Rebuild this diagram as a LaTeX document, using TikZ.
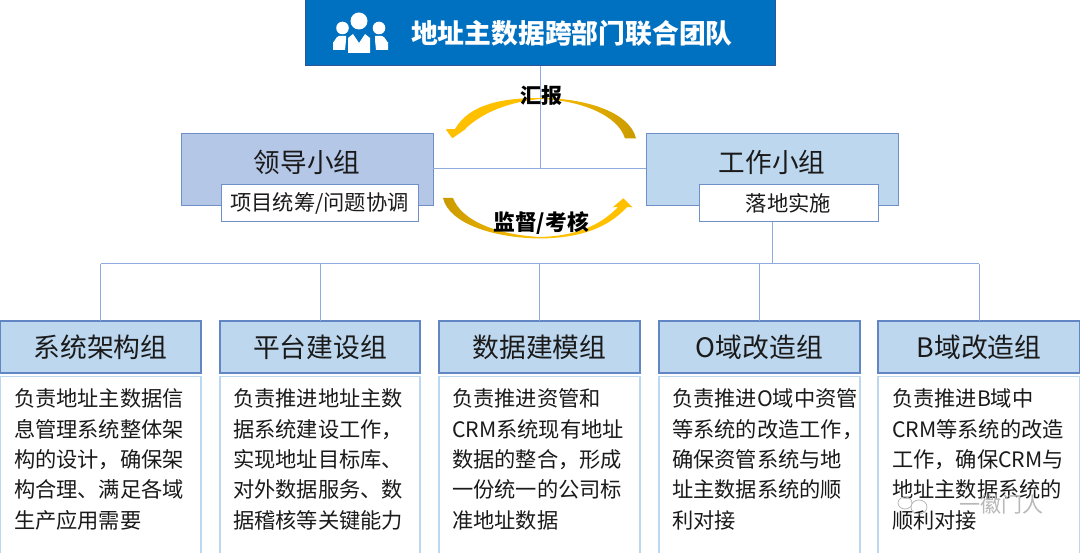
\documentclass[tikz,border=0pt]{standalone}
\usepackage{fontspec}
\setmainfont{Noto Sans CJK SC}
\definecolor{topfill}{HTML}{0070C0}
\definecolor{topline}{HTML}{2F5597}
\definecolor{lead}{HTML}{B4C7E7}
\definecolor{work}{HTML}{BDD7EE}
\definecolor{edge}{HTML}{6F8FC9}
\definecolor{gedge}{HTML}{6285C3}
\definecolor{conn}{HTML}{8FAADC}
\definecolor{bodyline}{HTML}{BDD7EE}
\definecolor{txt}{HTML}{1A1A1A}
\definecolor{goldA}{HTML}{FFC000}
\definecolor{goldB}{HTML}{C99A00}
\definecolor{wm}{HTML}{B8B8B8}
\tikzset{
  x=1pt,y=-1pt,
  every node/.style={outer sep=0pt},
  subbox/.style={draw=edge,fill=white,line width=1pt,inner sep=0pt,anchor=north west,minimum height=37pt,text=txt,font=\fontsize{21.3}{21.3}\selectfont},
  groupbox/.style={draw=gedge,line width=1.2pt,fill=work,inner sep=0pt,anchor=north west,minimum height=52pt,text=txt,font=\fontsize{26.8}{26.8}\selectfont},
  bodybox/.style={draw=bodyline,line width=1.2pt,fill=white,anchor=north west,inner sep=0pt,minimum height=177pt,text=txt},
  bodytxt/.style={anchor=north west,inner sep=0pt,text=txt,align=left,font=\fontsize{21.25}{30.3}\selectfont,text width=#1},
  wire/.style={draw=conn,line width=1pt},
  lab/.style={font=\bfseries\fontsize{21}{21}\selectfont,text=black,inner sep=0pt}
}
\begin{document}
\begin{tikzpicture}
\useasboundingbox (0,0) rectangle (1080,553);
\fill[white] (0,0) rectangle (1080,553);
% boxes
\node[draw=topline,line width=1pt,fill=topfill,anchor=north west,minimum width=470pt,minimum height=66pt,inner sep=0pt] (top) at (305,0) {};
\node[anchor=west,inner sep=0pt,text=white,font=\bfseries\fontsize{26.8}{26.8}\selectfont] (toptxt) at (411,33) {地址主数据跨部门联合团队};
% icon
\fill[white] (359,21) circle (8.5);
\fill[white] (342.5,28) circle (6.3);
\fill[white] (379,28) circle (6.3);
\fill[white] (333,50) -- (333,42) to[out=-90,in=180] (339,36) -- (346,36) -- (346,40) -- (345,50) -- cycle;
\fill[white] (388,50) -- (388,42) to[out=-90,in=0] (382,36) -- (375,36) -- (375,40) -- (376,50) -- cycle;
\fill[white] (348,53) -- (348,38) -- (353,34) -- (359,43) -- (365,34) -- (370,38) -- (370,53) -- cycle;
\fill[topfill] (354,34.5) -- (364,34.5) -- (359,41) -- cycle;

\node[draw=edge,line width=1pt,fill=lead,anchor=north west,minimum width=252pt,minimum height=72pt,inner sep=0pt] (lead) at (181,134) {};
\node[draw=edge,line width=1pt,fill=work,anchor=north west,minimum width=252pt,minimum height=72pt,inner sep=0pt] (work) at (646,134) {};
\node[inner sep=0pt,text=txt,font=\fontsize{26.6}{26.6}\selectfont] (leadt) at (307,162) {领导小组};
\node[inner sep=0pt,text=txt,font=\fontsize{26.6}{26.6}\selectfont] (workt) at (772,162) {工作小组};
\node[subbox,minimum width=197pt] (leadsub) at (221,185) {项目统筹/问题协调};
\node[subbox,minimum width=179pt] (worksub) at (699,185) {落地实施};

% groups
\node[groupbox,minimum width=201pt] (g1) at (0,321) {系统架构组};
\node[groupbox,minimum width=200pt] (g2) at (220,321) {平台建设组};
\node[groupbox,minimum width=201pt] (g3) at (439,321) {数据建模组};
\node[groupbox,minimum width=201pt] (g4) at (659,321) {O域改造组};
\node[groupbox,minimum width=202pt] (g5) at (878,321) {B域改造组};
\node[bodybox,minimum width=201pt] (b1) at (0,376.5) {};
\node[bodybox,minimum width=200pt] (b2) at (220,376.5) {};
\node[bodybox,minimum width=201pt] (b3) at (439,376.5) {};
\node[bodybox,minimum width=201pt] (b4) at (659,376.5) {};
\node[bodybox,minimum width=202pt] (b5) at (878,376.5) {};
\node[bodytxt=186pt] (t1) at (14,389) {负责地址主数据信\\息管理系统整体架\\构的设计，确保架\\构合理、满足各域\\生产应用需要};
\node[bodytxt=186pt] (t2) at (233,389) {负责推进地址主数\\据系统建设工作，\\实现地址目标库、\\对外数据服务、数\\据稽核等关键能力};
\node[bodytxt=186pt] (t3) at (452,389) {负责推进资管和\\CRM系统现有地址\\数据的整合，形成\\一份统一的公司标\\准地址数据};
\node[bodytxt=195pt] (t4) at (672,389) {负责推进O域中资管\\等系统的改造工作，\\确保资管系统与地\\址主数据系统的顺\\利对接};
\node[bodytxt=186pt] (t5) at (892,389) {负责推进B域中\\CRM等系统的改造\\工作，确保CRM与\\地址主数据系统的\\顺利对接};

% connectors
\coordinate (hub) at (540,169);
\coordinate (bus) at (772,264);
\draw[wire] (top.south -| hub) -- (hub);
\draw[wire] (lead.east |- hub) -- (work.west |- hub);
\draw[wire] (worksub.south -| bus) -- (bus);
\draw[wire] (g1.north |- bus) -- (g5.north |- bus);
\foreach \g in {g1,g2,g3,g4,g5} \draw[wire] (\g.north |- bus) -- (\g.north);

% curved arrows
\shade[left color=goldA,right color=goldB,middle color=goldA]
  (636,138.5) .. controls (630,112) and (585,98) .. (540,98)
  .. controls (505,98) and (470,103) .. (455,129)
  -- (445.7,129.3) -- (452.3,138.3) -- (465.7,129) -- (465,129)
  .. controls (478,117) and (500,103) .. (540,99)
  .. controls (580,100) and (618,115) .. (625,138.5) -- cycle;
\shade[left color=goldB,right color=goldA,middle color=goldA]
  (443,198) .. controls (449,224) and (495,238) .. (540,238.5)
  .. controls (580,238) and (608,228) .. (627,207)
  -- (632.3,207.3) -- (623.3,198.3) -- (612.7,207.3) -- (618,207)
  .. controls (600,226) and (575,236) .. (540,237)
  .. controls (500,235) and (462,222) .. (453,198) -- cycle;
\node[lab] (l1) at (541.5,96) {汇报};
\node[lab,font=\bfseries\fontsize{21.8}{21.8}\selectfont] (l2) at (541,223) {监督/考核};

% watermark
\draw[wm,line width=0.8pt] (905,503) ellipse (7 and 6);
\draw[wm,line width=0.8pt] (919,507) ellipse (8 and 7);
\node[inner sep=0pt,text=wm,font=\fontsize{21}{21}\selectfont] (wmk) at (1001,505) {一徽门人};
\end{tikzpicture}
\end{document}
